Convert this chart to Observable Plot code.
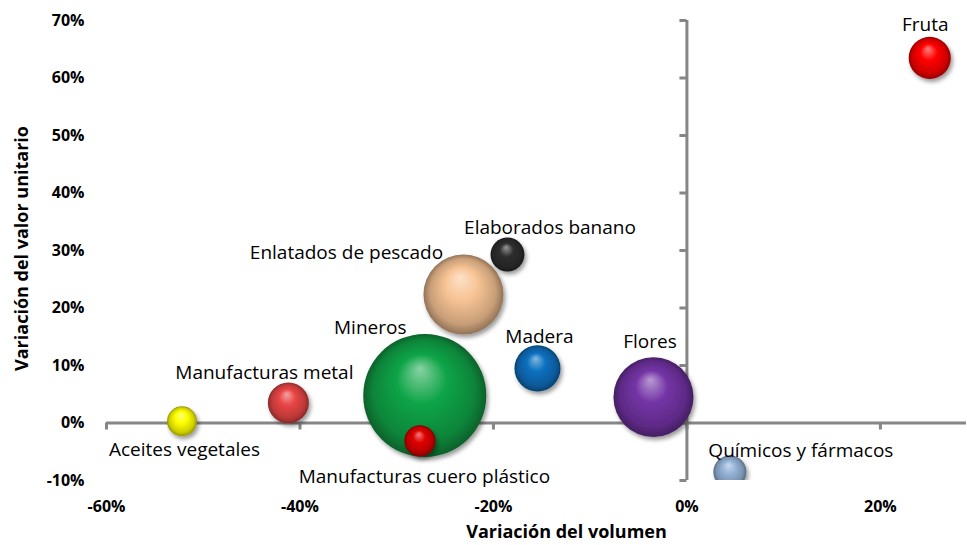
<!DOCTYPE html>
<html><head><meta charset="utf-8">
<script src="https://cdn.jsdelivr.net/npm/d3@7"></script>
<script src="https://cdn.jsdelivr.net/npm/@observablehq/plot@0.6"></script>
<style>
body{margin:0;background:#fff;}
#chart svg{display:block;}
#chart g[aria-label$='tick label'], #chart g[aria-label$='tick label'] text{font-size:16px;font-weight:bold;fill:#000;}
</style></head><body><div id="chart"></div>
<script>
// ---- data ----
const productos = ["Fruta","Aceites vegetales","Manufacturas metal","Mineros","Manufacturas cuero plástico","Enlatados de pescado","Elaborados banano","Madera","Flores","Químicos y fármacos"];
const variacionVolumen = [0.251,-0.522,-0.412,-0.271,-0.276,-0.231,-0.1855,-0.1545,-0.0346,0.0444];
const variacionValorUnitario = [0.635,0.003,0.035,0.048,-0.031,0.2235,0.293,0.095,0.045,-0.085];
const tamano = [11.7,5.9,11.1,100,6.4,42.3,7.6,14.0,42.3,7.2];
const colores = ["#ff0000","#ffff00","#e84545","#10a548","#e00000","#f8c495","#2e2e2e","#0a70c0","#7434a6","#95b3d7"];
const xTicks = [-0.6,-0.4,-0.2,0,0.2];
const yTicks = [-0.1,0,0.1,0.2,0.3,0.4,0.5,0.6,0.7];
const tituloX = "Variación del volumen";
const tituloY = "Variación del valor unitario";
// label placement (px offsets from bubble centre)
const labelOffsets = [[-4.5,-33],[2.5,29],[-24,-30],[-54.5,-67.5],[4.5,36],[-117,-42],[42.5,-27],[2,-31.5],[-3.5,-55],[71,-20.5]];

const data = productos.map((n,i)=>({name:n, x:variacionVolumen[i], y:variacionValorUnitario[i], size:tamano[i], color:colores[i], id:i}));
const FONT = "'Open Sans', Lato, sans-serif";
const AXIS = "#868686";
const pct = d => Math.round(d*100) + "%";

function defs() {
  const d = d3.create("svg:defs");
  colores.forEach((c,i) => {
    const base = d3.color(c);
    const g = d.append("radialGradient").attr("id","sph"+i)
      .attr("cx","50%").attr("cy","50%").attr("r","50%").attr("fx","46%").attr("fy","28%");
    g.append("stop").attr("offset","0%").attr("stop-color", d3.interpolateRgb(c,"#fff")(0.5));
    g.append("stop").attr("offset","40%").attr("stop-color", c);
    g.append("stop").attr("offset","82%").attr("stop-color", base.darker(0.6).formatHex());
    g.append("stop").attr("offset","100%").attr("stop-color", base.darker(1.5).formatHex());
  });
  const f = d.append("filter").attr("id","shadow").attr("x","-30%").attr("y","-30%").attr("width","170%").attr("height","170%");
  f.append("feDropShadow").attr("dx",2).attr("dy",3).attr("stdDeviation",2.2).attr("flood-color","#000").attr("flood-opacity",0.4);
  return d.node();
}

const labelMarks = data.map((d,i) => Plot.text([d], {
  x:"x", y:"y", text:"name", dx:labelOffsets[i][0], dy:labelOffsets[i][1],
  textAnchor:"middle", lineAnchor:"middle", fontSize:19, fill:"#000"
}));

const plot = Plot.plot({
  width:967, height:545,
  marginLeft:106, marginRight:1, marginTop:20, marginBottom:65,
  style:{fontFamily:FONT, fontSize:"16px", background:"#fff", color:"#000", overflow:"visible"},
  x:{domain:[-0.6,0.289], ticks:xTicks},
  y:{domain:[-0.1,0.7], ticks:yTicks},
  r:{type:"sqrt", domain:[0,100], range:[0,61.5]},
  marks:[
    defs,
    Plot.ruleY([0], {stroke:AXIS, strokeWidth:3}),
    Plot.ruleX(xTicks, {x:d=>d, y1:0, y2:0, insetBottom:-7, stroke:AXIS, strokeWidth:3}),
    Plot.ruleX([0], {stroke:AXIS, strokeWidth:3}),
    Plot.ruleY(yTicks, {y:d=>d, x1:0, x2:0, insetLeft:-7, stroke:AXIS, strokeWidth:3}),
    Plot.axisX({ticks:xTicks, tickSize:0, tickPadding:20, tickFormat:pct, fontWeight:"bold", fontSize:16, label:null}),
    Plot.axisY({ticks:yTicks, tickSize:0, tickPadding:22, tickFormat:pct, fontWeight:"bold", fontSize:16, label:null}),
    Plot.dot(data, {x:"x", y:"y", r:"size", fill:"color", stroke:"none", clip:true}),
    ...labelMarks,
    Plot.text([tituloX], {frameAnchor:"bottom", dx:30, dy:52, textAnchor:"middle", lineAnchor:"middle", fontWeight:"bold", fontSize:18}),
    Plot.text([tituloY], {frameAnchor:"left", rotate:-90, dx:-84, dy:-2, textAnchor:"middle", lineAnchor:"middle", fontWeight:"bold", fontSize:18})
  ]
});

// apply sphere gradients and shadows
const colorToId = new Map(colores.map((c,i)=>[c.toLowerCase(), i]));
d3.select(plot).selectAll("g[aria-label='dot'] circle").each(function(){
  const f = (this.getAttribute("fill")||"").toLowerCase();
  const c = d3.color(f);
  let id = colorToId.get(f);
  if (id === undefined && c) id = colorToId.get(c.formatHex());
  if (id !== undefined) {
    this.setAttribute("fill", `url(#sph${id})`);
    this.setAttribute("filter", "url(#shadow)");
  }
});
document.getElementById("chart").appendChild(plot);
</script>
</body></html>
